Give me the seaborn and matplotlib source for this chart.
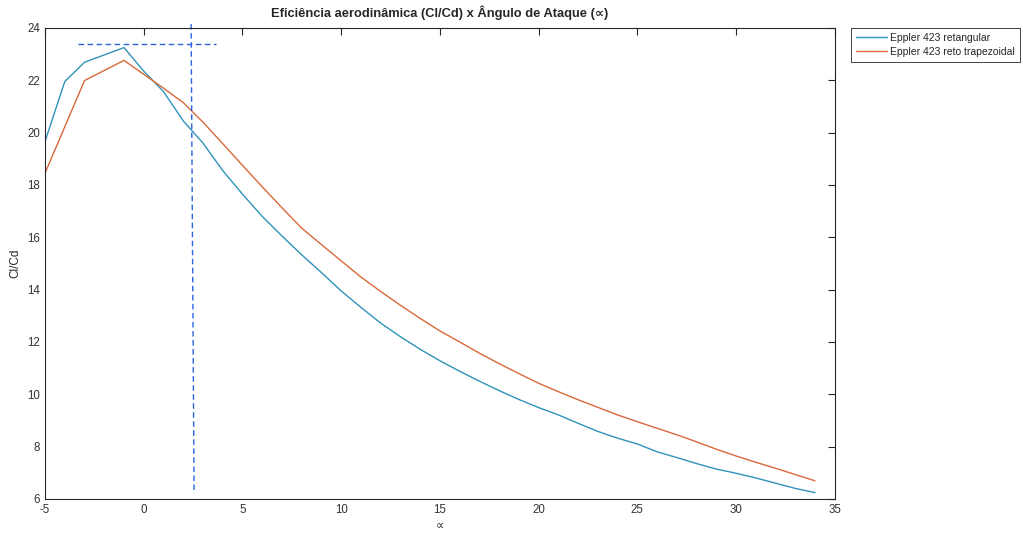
import pandas as pd
import numpy as np
import matplotlib
matplotlib.use("Agg")
import matplotlib.pyplot as plt
import seaborn as sns

# Eppler 423 retangular
alpha_ret = [-5, -4, -3, -2, -1, 0, 1, 2, 3, 4, 5, 6, 7, 8, 9, 10, 11, 12, 13, 14,
             15, 16, 17, 18, 19, 20, 21, 22, 23, 24, 25, 26, 27, 28, 29, 30, 31, 32, 33, 34]
clcd_ret = [19.66, 21.95, 22.69, 22.97, 23.25, 22.35, 21.57, 20.45, 19.60, 18.55,
            17.65, 16.80, 16.05, 15.33, 14.65, 13.95, 13.32, 12.72, 12.20, 11.72,
            11.28, 10.88, 10.50, 10.14, 9.80, 9.49, 9.21, 8.89, 8.58, 8.32,
            8.10, 7.80, 7.58, 7.35, 7.14, 6.98, 6.80, 6.60, 6.40, 6.24]

# Eppler 423 reto trapezoidal
alpha_trap = [-5, -3, -1, 0, 1, 2, 3, 4, 5, 6, 7, 8, 9, 10, 11, 12, 13, 14, 15, 16,
              17, 18, 19, 20, 21, 22, 23, 24, 25, 26, 27, 28, 29, 30, 31, 32, 33, 34]
clcd_trap = [18.45, 21.99, 22.76, 22.23, 21.70, 21.15, 20.40, 19.58, 18.75, 17.93,
             17.13, 16.35, 15.72, 15.10, 14.48, 13.93, 13.40, 12.90, 12.42, 12.00,
             11.57, 11.17, 10.79, 10.42, 10.10, 9.79, 9.50, 9.21, 8.95, 8.70,
             8.45, 8.18, 7.90, 7.64, 7.40, 7.17, 6.93, 6.69]

series_names = ["Eppler 423 retangular", "Eppler 423 reto trapezoidal"]
series_colors = ["#2f93b9", "#d9693a"]

# marcas auxiliares (ponto de maxima eficiencia)
hline_x = [-3.33, 3.66]
hline_y = [23.39, 23.39]
vline_x = [2.40, 2.55]
vline_y = [24.15, 6.20]

df = pd.concat([
    pd.DataFrame({"alpha": alpha_ret, "clcd": clcd_ret, "serie": series_names[0]}),
    pd.DataFrame({"alpha": alpha_trap, "clcd": clcd_trap, "serie": series_names[1]}),
], ignore_index=True)

sns.set_style("white")
plt.rcParams['font.family'] = ['Liberation Sans', 'DejaVu Sans']
plt.rcParams['axes.unicode_minus'] = False
plt.rcParams['axes.edgecolor'] = '#262626'
plt.rcParams['xtick.color'] = '#262626'
plt.rcParams['ytick.color'] = '#262626'

fig = plt.figure(figsize=(10.23, 5.33), dpi=100)
ax = fig.add_axes([0.044, 0.064, 0.772, 0.8835])

sns.lineplot(data=df, x="alpha", y="clcd", hue="serie", hue_order=series_names,
             palette=series_colors, linewidth=1.0, ax=ax, sort=True)

ax.plot(hline_x, hline_y, linestyle=(0, (4, 2.5)), color="#2a64e0", linewidth=1.0, clip_on=False)
ax.plot(vline_x, vline_y, linestyle=(0, (4, 2.5)), color="#2a64e0", linewidth=1.0, clip_on=False)

ax.set_xlim(-5, 35)
ax.set_ylim(6, 24)
ax.set_xticks(np.arange(-5, 36, 5))
ax.set_yticks(np.arange(6, 25, 2))
ax.tick_params(direction='in', length=5, width=0.8, top=True, right=True,
               labelsize=8.3, labelcolor='#333333')
for s in ax.spines.values():
    s.set_linewidth(0.8)

ax.set_title("Eficiência aerodinâmica (Cl/Cd) x Ângulo de Ataque (∝)",
             fontsize=9.3, fontweight='bold', pad=8)
ax.set_xlabel("∝", fontsize=8.5, labelpad=3)
ax.set_ylabel("Cl/Cd", fontsize=8.5, labelpad=4)

leg = ax.legend(loc='upper left', bbox_to_anchor=(1.021, 1.0), fontsize=7.5,
                frameon=True, fancybox=False, framealpha=1, edgecolor='#262626',
                handlelength=3.0, handletextpad=0.3, borderaxespad=0,
                borderpad=0.45, labelspacing=0.4, title=None)
leg.get_frame().set_linewidth(0.6)

fig.savefig("out.png", dpi=100)
